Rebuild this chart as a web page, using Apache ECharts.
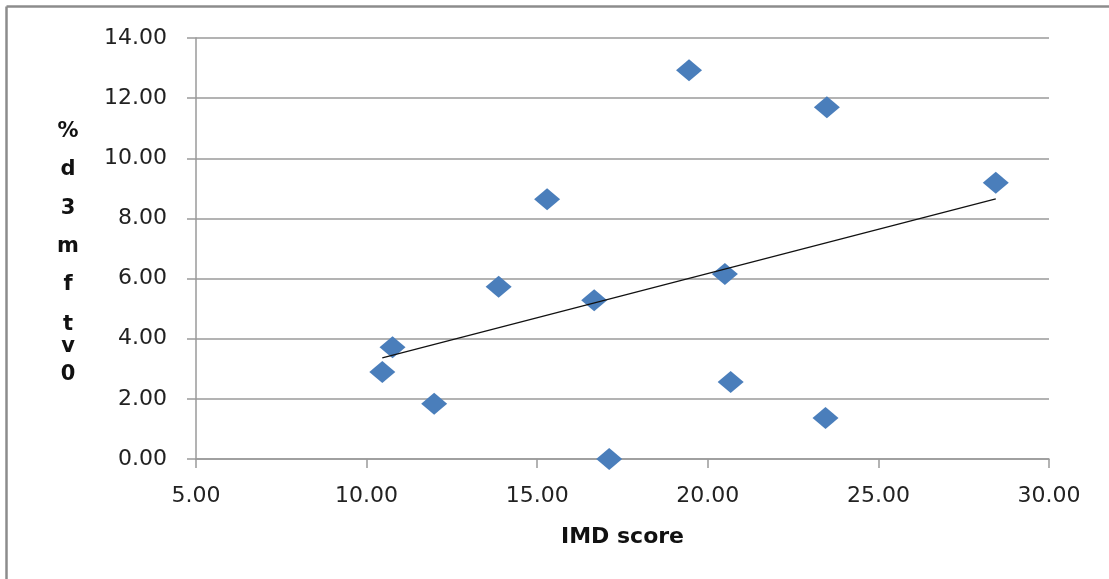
<!DOCTYPE html>
<html>
<head>
<meta charset="utf-8">
<script src="https://cdn.jsdelivr.net/npm/echarts@6/dist/echarts.min.js"></script>
<style>
html,body{margin:0;padding:0;background:#fff;}
#chart{width:1109px;height:579px;}
</style>
</head>
<body>
<div id="chart"></div>
<script>
// ---- data ----
var imdScore = [10.46, 10.76, 11.98, 13.87, 15.29, 16.67, 17.11, 19.45, 20.50, 20.67, 23.49, 23.45, 28.44];
var pctValue = [2.89, 3.72, 1.84, 5.73, 8.64, 5.28, 0.00, 12.93, 6.15, 2.56, 11.70, 1.36, 9.19];
var xAxisTitle = 'IMD score';
var yTitleChars = ['%', 'd', '3', 'm', 'f', 't', 'v', '0'];

// ---- build ----
var points = imdScore.map(function (x, i) { return [x, pctValue[i]]; });
var n = imdScore.length, sx = 0, sy = 0;
for (var i = 0; i < n; i++) { sx += imdScore[i]; sy += pctValue[i]; }
var mx = sx / n, my = sy / n, sxy = 0, sxx = 0;
for (var i = 0; i < n; i++) { sxy += (imdScore[i] - mx) * (pctValue[i] - my); sxx += (imdScore[i] - mx) * (imdScore[i] - mx); }
var slope = sxy / sxx, icpt = my - slope * mx;
var xmin = Math.min.apply(null, imdScore), xmax = Math.max.apply(null, imdScore);
var trend = [[xmin, icpt + slope * xmin], [xmax, icpt + slope * xmax]];

var titleYs = [131.7, 170, 208.3, 246.7, 285, 325, 346.7, 375];
var graphics = [
  { type: 'line', shape: { x1: 6.5, y1: 6.5, x2: 1109, y2: 6.5 }, style: { stroke: '#8c8c8c', lineWidth: 2.5 } },
  { type: 'line', shape: { x1: 6.5, y1: 6.5, x2: 6.5, y2: 579 }, style: { stroke: '#8c8c8c', lineWidth: 2.5 } }
];
yTitleChars.forEach(function (c, i) {
  graphics.push({
    type: 'text', x: 68, y: titleYs[i],
    style: { text: c, fontFamily: 'DejaVu Sans', fontWeight: 'bold', fontSize: 21, fill: '#111', align: 'center', verticalAlign: 'middle' }
  });
});

var chart = echarts.init(document.getElementById('chart'), null, { renderer: 'canvas' });
chart.setOption({
  animation: false,
  backgroundColor: '#fff',
  grid: { left: 196, right: 60, top: 38, bottom: 120, containLabel: false },
  xAxis: {
    type: 'value', min: 5, max: 30, interval: 5,
    name: xAxisTitle, nameLocation: 'middle', nameGap: 67,
    nameTextStyle: { fontFamily: 'DejaVu Sans', fontWeight: 'bold', fontSize: 22, color: '#111' },
    axisLine: { show: true, lineStyle: { color: '#9a9a9a', width: 1.5 } },
    axisTick: { show: true, length: 9, inside: false, lineStyle: { color: '#9a9a9a', width: 1.5 } },
    splitLine: { show: false },
    axisLabel: { formatter: function (v) { return v.toFixed(2); }, margin: 26, fontFamily: 'DejaVu Sans', fontSize: 22, color: '#222' }
  },
  yAxis: {
    type: 'value', min: 0, max: 14, interval: 2,
    axisLine: { show: true, lineStyle: { color: '#9a9a9a', width: 1.5 } },
    axisTick: { show: true, length: 9, inside: false, lineStyle: { color: '#9a9a9a', width: 1.5 } },
    splitLine: { show: true, lineStyle: { color: '#9a9a9a', width: 1.5 } },
    axisLabel: { formatter: function (v) { return v.toFixed(2); }, margin: 29, fontFamily: 'DejaVu Sans', fontSize: 22, color: '#222' }
  },
  series: [
    {
      type: 'line', data: trend, showSymbol: false, symbol: 'none', silent: true,
      lineStyle: { color: '#111', width: 1.2 }, z: 3
    },
    {
      type: 'scatter', data: points, symbol: 'diamond', symbolSize: [26, 22],
      itemStyle: { color: '#4a7ebb', opacity: 1 }, z: 2
    }
  ],
  graphic: graphics
});
</script>
</body>
</html>
